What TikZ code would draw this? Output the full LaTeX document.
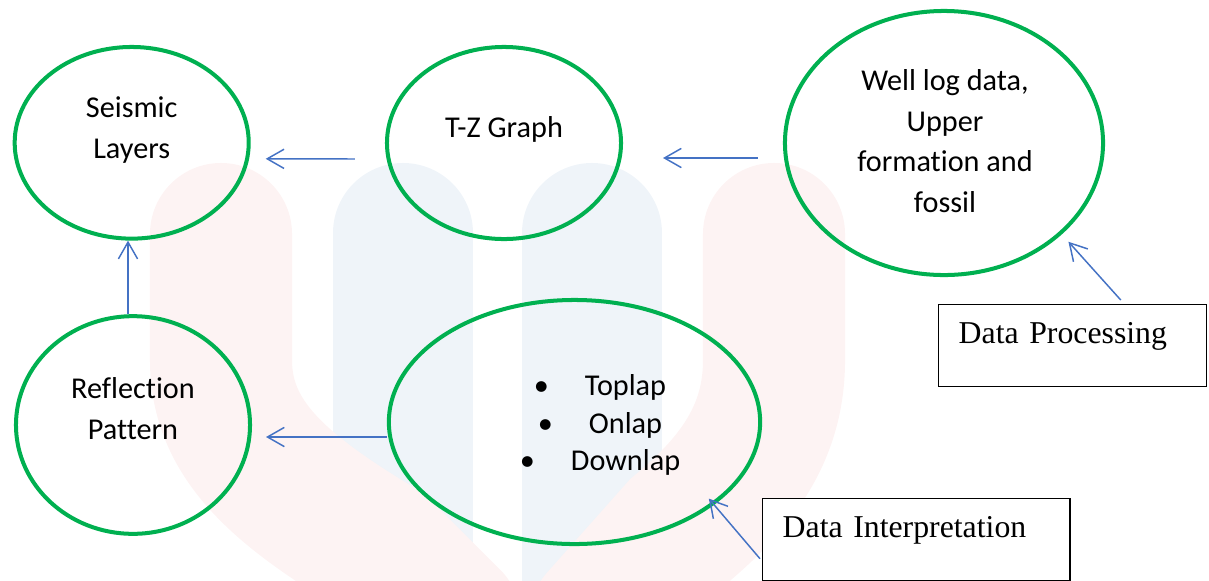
\documentclass[tikz,border=0pt]{standalone}
\usepackage{fontspec}
\setmainfont{Carlito}[Ligatures=NoCommon]
\newfontfamily\boxfont{Liberation Serif}
\usetikzlibrary{shapes.geometric,arrows.meta}

\definecolor{stagegreen}{RGB}{0,176,80}
\definecolor{flowblue}{RGB}{68,114,196}
\definecolor{markpink}{RGB}{253,243,243}
\definecolor{markblue}{RGB}{239,244,249}

\tikzset{
    stage/.style={ellipse, draw=stagegreen, line width=2.85pt, inner sep=0pt},
    stagetext/.style={align=center, inner sep=0pt, font=\fontsize{21.5}{29}\selectfont},
    flow/.style={draw=flowblue, line width=1.05pt, -{Straight Barb[length=4.2mm,width=4.8mm]}},
    taskbox/.style={draw, line width=1pt, fill=white, anchor=north west, align=left,
        inner xsep=0.5cm, inner ysep=0pt, text height=0.975cm, text depth=1.075cm,
        font=\boxfont\fontsize{22.6}{27}\selectfont},
}

\begin{document}
\begin{tikzpicture}[x=0.025cm, y=-0.025cm]
    \useasboundingbox (0,0) rectangle (1209,580);

    % Faint watermark behind the chart
    \begin{scope}[line cap=round]
        \draw[markblue, line width=3.5cm] (403,233) -- (403,700);
        \draw[markblue, line width=3.5cm] (592,233) -- (592,700);
        \draw[markpink, line width=3.55cm] (221,234) -- (221,360) .. controls (221,440) and (280,490) .. (380,550) -- (450,620);
        \draw[markpink, line width=3.55cm] (774,234) -- (774,360) .. controls (774,430) and (740,480) .. (680,530) -- (600,620);
    \end{scope}

    % Stages (ellipses)
    \node[stage, minimum width=5.85cm, minimum height=4.79cm] (seismic) at (131.7,142.8) {};
    \node[stage, minimum width=5.85cm, minimum height=4.8cm] (tz) at (504,143) {};
    \node[stage, minimum width=7.95cm, minimum height=6.6cm] (well) at (944,143) {};
    \node[stage, minimum width=5.85cm, minimum height=5.44cm] (refl) at (133,425) {};
    \node[stage, minimum width=9.28cm, minimum height=6.1cm] (bul) at (574.5,422) {};

    % Stage texts
    \node[stagetext] (seismiclbl) at ([shift={(0,-13)}]seismic.center) {Seismic\\Layers};
    \node[stagetext] (tzlbl) at ([shift={(0,-13.5)}]tz.center) {T-Z Graph};
    \node[stagetext] (welllbl) at ([shift={(1,-2)}]well.center) {Well log data,\\Upper\\formation and\\fossil};
    \node[stagetext] (refllbl) at ([shift={(0,-16.5)}]refl.center) {Reflection\\Pattern};
    \node[stagetext, font=\fontsize{21.5}{26.7}\selectfont] (bullbl) at ([shift={(25.5,3)}]bul.center)
        {\textbullet\hspace{0.9cm}Toplap\\\textbullet\hspace{0.9cm}Onlap\\\textbullet\hspace{0.9cm}Downlap};

    % Text boxes
    \node[taskbox, text width=5.7cm] (dp) at (938,304) {Data Processing};
    \node[taskbox, text width=6.675cm] (di) at (762,498) {Data Interpretation};

    % Flow arrows
    \draw[flow] ([shift={(-30,16)}]tz.west) -- ([shift={(15,16)}]seismic.east);
    \draw[flow] ([shift={(-25,15)}]well.west) -- ([shift={(40,15)}]tz.east);
    \draw[flow] ([shift={(-5,0)}]refl.north) -- ([shift={(-3.7,0)}]seismic.south);
    \draw[flow] ([shift={(0,15)}]bul.west) -- ([shift={(14,12)}]refl.east);
    \draw[flow] ([shift={(48,-4)}]dp.north) -- ([shift={(7,7)}]well.-38);
    \draw[flow] ([shift={(-2,19)}]di.west) -- ([shift={(-7,-5)}]bul.-30);
\end{tikzpicture}
\end{document}
